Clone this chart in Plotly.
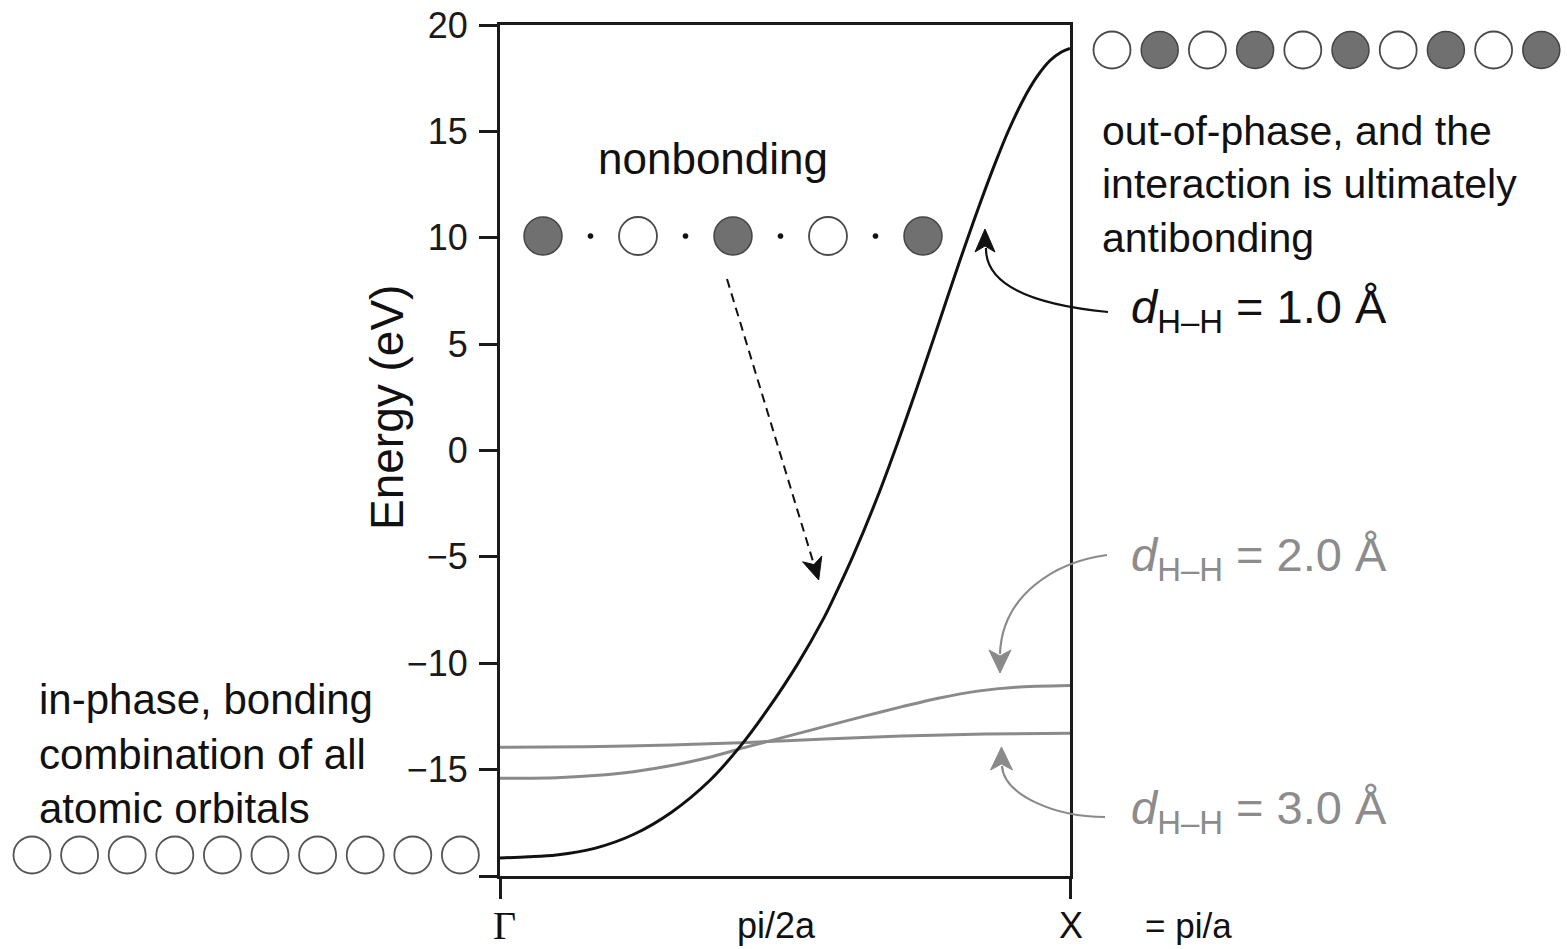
import plotly.graph_objects as go

# ---------------- data ----------------
# k in units of pi/a (0 = Gamma, 1 = X), energies in eV
k_1A = [0.000, 0.050, 0.099, 0.166, 0.234, 0.301, 0.368, 0.421, 0.468, 0.522,
        0.569, 0.583, 0.620, 0.663, 0.697, 0.730, 0.760, 0.784, 0.807, 0.842,
        0.871, 0.892, 0.918, 0.942, 0.965, 0.985, 1.000]
E_1A = [-19.15, -19.10, -19.01, -18.70, -18.05, -17.00, -15.51, -13.92, -12.23, -10.04,
        -7.83, -7.07, -4.92, -2.13, 0.32, 2.83, 5.20, 7.12, 8.94, 11.60,
        13.66, 15.03, 16.49, 17.57, 18.33, 18.73, 18.90]

k_2A = [0.000, 0.099, 0.166, 0.234, 0.301, 0.368, 0.435, 0.502, 0.569, 0.636,
        0.704, 0.771, 0.838, 0.905, 1.000]
E_2A = [-15.41, -15.38, -15.28, -15.10, -14.81, -14.42, -13.92, -13.45, -12.98, -12.51,
        -12.05, -11.63, -11.31, -11.13, -11.05]

k_3A = [0.000, 0.150, 0.300, 0.435, 0.570, 0.704, 0.850, 1.000]
E_3A = [-13.95, -13.92, -13.84, -13.72, -13.56, -13.42, -13.33, -13.29]

y_tickvals = [-20, -15, -10, -5, 0, 5, 10, 15, 20]
y_ticktext = ["", "\u221215", "\u221210", "\u22125", "0", "5", "10", "15", "20"]

x_labels = ["\u0393", "pi/2a", "X"]
x_label_k = [0.0, 0.5, 1.0]
x_extra_label = "= pi/a"

labels_d = ["1.0", "2.0", "3.0"]

# ---------------- layout geometry (pixels) ----------------
FIG_W, FIG_H = 1567, 949
L, R, T, B = 500, 1070, 25, 876
PW, PH = R - L, B - T

def px(x):
    return (x - L) / PW

def py(y):
    return (B - y) / PH

def P(x, y):
    return f"{px(x):.5f},{py(y):.5f}"

SANS = "Liberation Sans, Arial, Helvetica, sans-serif"
SERIF = "Liberation Serif, Times New Roman, serif"
BLACK = "#111111"
GRAY = "#8a8a8a"
TEXT_GRAY = "#8c8c8c"

fig = go.Figure()

fig.add_trace(go.Scatter(x=k_3A, y=E_3A, mode="lines",
                         line=dict(color=GRAY, width=3, shape="spline", smoothing=0.8),
                         hoverinfo="skip", showlegend=False))
fig.add_trace(go.Scatter(x=k_2A, y=E_2A, mode="lines",
                         line=dict(color=GRAY, width=3, shape="spline", smoothing=0.8),
                         hoverinfo="skip", showlegend=False))
fig.add_trace(go.Scatter(x=k_1A, y=E_1A, mode="lines",
                         line=dict(color=BLACK, width=3, shape="spline", smoothing=0.9),
                         hoverinfo="skip", showlegend=False))

shapes = []

def circle(cx, cy, r, fill, line_color, lw):
    shapes.append(dict(type="circle", xref="paper", yref="paper",
                       x0=px(cx - r), x1=px(cx + r), y0=py(cy + r), y1=py(cy - r),
                       fillcolor=fill, line=dict(color=line_color, width=lw), layer="above"))

DARK_FILL = "#707070"
DARK_LINE = "#444444"
WHITE_LINE = "#4a4a4a"

# top-right row: out-of-phase
for i in range(10):
    cx = 1112 + i * 47.7
    if i % 2 == 0:
        circle(cx, 50, 18.5, "white", WHITE_LINE, 1.8)
    else:
        circle(cx, 50, 18.5, DARK_FILL, DARK_LINE, 1.5)

# bottom-left row: in-phase
for i in range(10):
    cx = 32 + i * 47.6
    circle(cx, 855, 18.5, "white", "#555555", 1.8)

# middle row: nonbonding
mid_x = [543, 638, 733, 828, 923]
for i, cx in enumerate(mid_x):
    if i % 2 == 0:
        circle(cx, 236, 19, DARK_FILL, DARK_LINE, 1.5)
    else:
        circle(cx, 236, 19, "white", WHITE_LINE, 1.8)
for i in range(4):
    dx = (mid_x[i] + mid_x[i + 1]) / 2
    circle(dx, 236, 2.6, "#111111", "#111111", 0.5)

# curved arrow (black) from d=1.0 label
shapes.append(dict(type="path", xref="paper", yref="paper",
                   path=f"M {P(1108, 312)} Q {P(985, 300)} {P(986, 248)}",
                   line=dict(color=BLACK, width=2.2), fillcolor="rgba(0,0,0,0)"))
shapes.append(dict(type="path", xref="paper", yref="paper",
                   path=f"M {P(985, 229)} L {P(975, 252)} L {P(985, 246)} L {P(995, 252)} Z",
                   line=dict(color=BLACK, width=1), fillcolor=BLACK))

# gray arrow from d=2.0 label (pointing down)
shapes.append(dict(type="path", xref="paper", yref="paper",
                   path=f"M {P(1107, 555)} C {P(1055, 562)} {P(1002, 595)} {P(1000, 654)}",
                   line=dict(color=GRAY, width=2.2), fillcolor="rgba(0,0,0,0)"))
shapes.append(dict(type="path", xref="paper", yref="paper",
                   path=f"M {P(1000, 673)} L {P(989, 650)} L {P(1000, 656)} L {P(1011, 650)} Z",
                   line=dict(color=GRAY, width=1), fillcolor=GRAY))

# gray arrow from d=3.0 label (pointing up)
shapes.append(dict(type="path", xref="paper", yref="paper",
                   path=f"M {P(1105, 817)} C {P(1055, 817)} {P(1004, 795)} {P(1002, 766)}",
                   line=dict(color=GRAY, width=2.2), fillcolor="rgba(0,0,0,0)"))
shapes.append(dict(type="path", xref="paper", yref="paper",
                   path=f"M {P(1001.5, 747)} L {P(990.5, 770)} L {P(1001.5, 764)} L {P(1012.5, 770)} Z",
                   line=dict(color=GRAY, width=1), fillcolor=GRAY))

# dashed straight arrow
shapes.append(dict(type="line", xref="paper", yref="paper",
                   x0=px(727), y0=py(279), x1=px(813.5), y1=py(563),
                   line=dict(color=BLACK, width=2, dash="9px,6px")))
shapes.append(dict(type="path", xref="paper", yref="paper",
                   path=f"M {P(818.7, 580)} L {P(802.6, 561.8)} L {P(813.9, 564.6)} L {P(821.8, 556)} Z",
                   line=dict(color=BLACK, width=1), fillcolor=BLACK))

annotations = []

def text(x, y, s, size, color=BLACK, xanchor="center", family=SANS, align="center", angle=0):
    annotations.append(dict(x=px(x), y=py(y), xref="paper", yref="paper", text=s,
                            showarrow=False, xanchor=xanchor, yanchor="middle", align=align,
                            textangle=angle, font=dict(family=family, size=size, color=color)))

text(713, 158, "nonbonding", 44)
text(1100, 184, "out-of-phase, and the<br>interaction is ultimately<br>antibonding", 41,
     xanchor="left", align="left")
text(37, 754, "in-phase, bonding<br>combination of all<br>atomic orbitals", 42,
     xanchor="left", align="left")

d_colors = [BLACK, TEXT_GRAY, TEXT_GRAY]
d_y = [310, 558, 811]
for lab, col, yy in zip(labels_d, d_colors, d_y):
    text(1129, yy, f"<i>d</i><sub>H\u2013H</sub> = {lab} \u00c5", 47, color=col,
         xanchor="left", align="left")

# y axis title
text(387, 408, "Energy (eV)", 46, angle=-90)

# x labels
x_fams = [SERIF, SANS, SANS]
x_sizes = [40, 36, 36]
x_shift = [4, -9, 1]
for lab, kk, fam, sz, sh in zip(x_labels, x_label_k, x_fams, x_sizes, x_shift):
    annotations.append(dict(x=kk, y=py(926), xref="x", yref="paper", text=lab,
                            showarrow=False, xanchor="center", yanchor="middle", xshift=sh,
                            font=dict(family=fam, size=sz, color=BLACK)))
text(1188, 925, x_extra_label, 35)

fig.update_layout(
    width=FIG_W, height=FIG_H,
    margin=dict(l=L, r=FIG_W - R, t=T, b=FIG_H - B, pad=0, autoexpand=False),
    paper_bgcolor="white", plot_bgcolor="white",
    shapes=shapes, annotations=annotations,
    showlegend=False,
)
fig.update_xaxes(range=[0, 1], showgrid=False, zeroline=False, automargin=False,
                 showline=True, mirror=True, linecolor="#1a1a1a", linewidth=3,
                 tickmode="array", tickvals=[0, 1], ticktext=["", ""],
                 ticks="outside", ticklen=20, tickwidth=2.5, tickcolor="#1a1a1a")
fig.update_yaxes(range=[-20, 20], showgrid=False, zeroline=False, automargin=False,
                 showline=True, mirror=True, linecolor="#1a1a1a", linewidth=3,
                 tickmode="array", tickvals=y_tickvals, ticktext=y_ticktext,
                 ticks="outside", ticklen=18, tickwidth=2.5, tickcolor="#1a1a1a",
                 ticklabelstandoff=4,
                 tickfont=dict(family=SANS, size=36, color="#1a1a1a"))

fig.write_html("out.html")
